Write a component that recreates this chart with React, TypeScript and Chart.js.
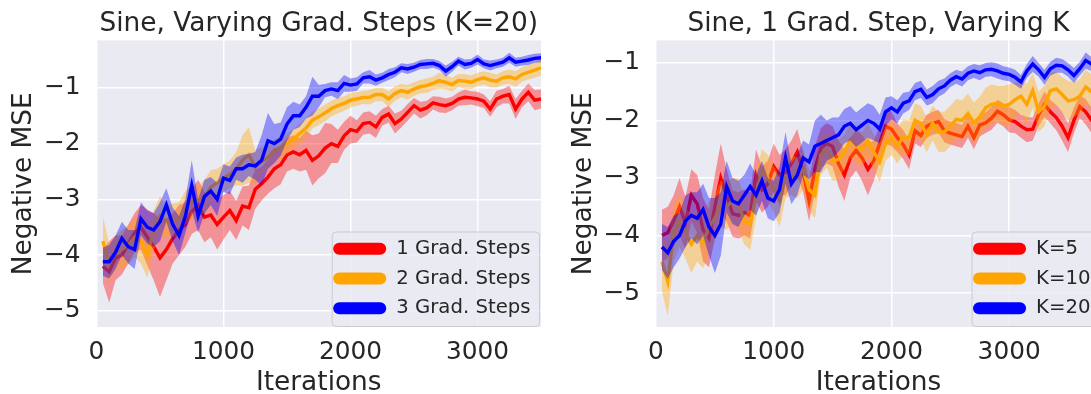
import React, { useEffect, useRef } from "react";
import { Chart, registerables } from "chart.js";

Chart.register(...registerables);

const FONT = "'DejaVu Sans', sans-serif";
const TEXT = "#262626";
const BG = "#EAEAF2";

// ---------- data ----------
const iterations = [
  50, 100, 150, 200, 250, 300, 350, 400, 450, 500,
  550, 600, 650, 700, 750, 800, 850, 900, 950, 1000,
  1050, 1100, 1150, 1200, 1250, 1300, 1350, 1400, 1450, 1500,
  1550, 1600, 1650, 1700, 1750, 1800, 1850, 1900, 1950, 2000,
  2050, 2100, 2150, 2200, 2250, 2300, 2350, 2400, 2450, 2500,
  2550, 2600, 2650, 2700, 2750, 2800, 2850, 2900, 2950, 3000,
  3050, 3100, 3150, 3200, 3250, 3300, 3350, 3400, 3450, 3500,
  3550, 3600, 3650, 3700, 3750,
];

const xTickValues = [0, 1000, 2000, 3000];
const yTickValues = [-5, -4, -3, -2, -1];

// Left panel: Sine, Varying Grad. Steps (K=20)
const leftTitle = "Sine, Varying Grad. Steps (K=20)";
const leftLabels = ["1 Grad. Steps", "2 Grad. Steps", "3 Grad. Steps"];

const leftStep1 = [
  -4.2, -4.3, -4.05, -4.0, -3.8, -3.6, -3.5, -3.68, -3.85, -4.05,
  -3.9, -3.7, -3.55, -3.45, -3.22, -3.1, -3.32, -3.28, -3.45, -3.32,
  -3.2, -3.38, -3.12, -3.15, -2.82, -2.72, -2.6, -2.45, -2.38, -2.2,
  -2.15, -2.2, -2.12, -2.3, -2.22, -2.08, -2.0, -2.05, -1.86, -1.75,
  -1.78, -1.64, -1.62, -1.7, -1.53, -1.47, -1.64, -1.56, -1.44, -1.32,
  -1.4, -1.36, -1.27, -1.3, -1.32, -1.28, -1.2, -1.17, -1.18, -1.2,
  -1.24, -1.38, -1.2, -1.15, -1.12, -1.38, -1.2, -1.08, -1.22, -1.2,
];
const leftStep1Spread = [
  0.3, 0.55, 0.4, 0.35, 0.35, 0.35, 0.4, 0.5, 0.6, 0.7,
  0.55, 0.45, 0.45, 0.4, 0.4, 0.45, 0.45, 0.4, 0.45, 0.4,
  0.35, 0.35, 0.35, 0.4, 0.35, 0.3, 0.3, 0.35, 0.35, 0.3,
  0.3, 0.3, 0.35, 0.45, 0.4, 0.45, 0.35, 0.3, 0.25, 0.25,
  0.2, 0.2, 0.2, 0.2, 0.15, 0.15, 0.18, 0.15, 0.15, 0.14,
  0.15, 0.13, 0.12, 0.14, 0.13, 0.12, 0.12, 0.14, 0.12, 0.13,
  0.12, 0.14, 0.15, 0.13, 0.16, 0.18, 0.15, 0.16, 0.18, 0.17,
];
const leftStep2 = [
  -3.75, -4.15, -3.95, -3.9, -3.82, -3.68, -3.75, -4.0, -3.55, -3.3,
  -3.4, -3.38, -3.35, -3.15, -3.05, -3.02, -2.95, -2.78, -2.7, -2.62,
  -2.55, -2.45, -2.3, -2.2, -2.42, -2.32, -2.25, -2.12, -2.08, -2.0,
  -1.92, -1.82, -1.72, -1.58, -1.52, -1.45, -1.37, -1.32, -1.28, -1.22,
  -1.2, -1.17, -1.17, -1.12, -1.12, -1.2, -1.1, -1.05, -1.08, -1.02,
  -0.98, -0.96, -0.92, -0.87, -0.9, -0.94, -0.87, -0.88, -0.9, -0.85,
  -0.82, -0.86, -0.88, -0.82, -0.8, -0.84, -0.76, -0.72, -0.68, -0.64,
];
const leftStep2Spread = [
  0.45, 0.35, 0.3, 0.35, 0.35, 0.35, 0.4, 0.4, 0.35, 0.35,
  0.3, 0.3, 0.3, 0.3, 0.3, 0.25, 0.3, 0.3, 0.25, 0.25,
  0.25, 0.3, 0.45, 0.5, 0.3, 0.25, 0.2, 0.2, 0.2, 0.18,
  0.18, 0.18, 0.18, 0.15, 0.15, 0.15, 0.14, 0.14, 0.13, 0.13,
  0.12, 0.12, 0.13, 0.12, 0.12, 0.14, 0.13, 0.12, 0.13, 0.12,
  0.12, 0.13, 0.12, 0.14, 0.13, 0.12, 0.12, 0.13, 0.12, 0.12,
  0.12, 0.13, 0.12, 0.12, 0.13, 0.14, 0.13, 0.13, 0.14, 0.14,
];
const leftStep3 = [
  -4.12, -4.12, -3.95, -3.7, -3.85, -3.9, -3.35, -3.5, -3.55, -3.4,
  -3.1, -3.45, -3.65, -3.3, -2.75, -3.3, -2.95, -2.85, -3.0, -2.62,
  -2.66, -2.45, -2.45, -2.38, -2.4, -2.3, -1.95, -2.0, -1.92, -1.65,
  -1.5, -1.5, -1.35, -1.15, -1.15, -1.05, -1.02, -1.05, -0.92, -0.95,
  -0.93, -0.82, -0.8, -0.86, -0.82, -0.76, -0.72, -0.64, -0.66, -0.63,
  -0.58, -0.57, -0.56, -0.6, -0.7, -0.62, -0.52, -0.58, -0.56, -0.49,
  -0.57, -0.6, -0.57, -0.54, -0.46, -0.54, -0.52, -0.5, -0.47, -0.46,
];
const leftStep3Spread = [
  0.25, 0.3, 0.3, 0.3, 0.3, 0.35, 0.3, 0.3, 0.3, 0.35,
  0.3, 0.3, 0.35, 0.3, 0.45, 0.3, 0.3, 0.25, 0.3, 0.25,
  0.25, 0.2, 0.25, 0.2, 0.25, 0.45, 0.5, 0.35, 0.3, 0.3,
  0.25, 0.2, 0.2, 0.35, 0.2, 0.12, 0.12, 0.15, 0.15, 0.12,
  0.12, 0.1, 0.12, 0.1, 0.09, 0.1, 0.09, 0.08, 0.09, 0.08,
  0.08, 0.09, 0.08, 0.08, 0.1, 0.09, 0.08, 0.09, 0.08, 0.09,
  0.08, 0.09, 0.08, 0.08, 0.09, 0.08, 0.08, 0.09, 0.08, 0.08,
];

// Right panel: Sine, 1 Grad. Step, Varying K
const rightTitle = "Sine, 1 Grad. Step, Varying K";
const rightLabels = ["K=5", "K=10", "K=20"];

const rightK5 = [
  -4.0, -3.95, -3.75, -3.5, -3.78, -3.3, -3.45, -3.9, -4.05, -3.5,
  -3.0, -3.3, -3.62, -3.65, -3.6, -3.65, -2.95, -3.2, -3.1, -2.8,
  -2.95, -2.9, -2.75, -2.55, -2.9, -3.4, -2.85, -2.48, -2.4, -2.45,
  -2.75, -2.95, -2.65, -2.52, -2.65, -2.85, -2.7, -2.4, -2.1, -2.15,
  -2.3, -2.42, -2.6, -2.18, -2.26, -2.1, -2.05, -2.02, -2.18, -2.22,
  -2.25, -2.28, -2.1, -2.3, -2.08, -2.04, -1.96, -1.84, -1.9, -1.99,
  -2.02, -2.1, -2.16, -2.15, -1.9, -1.72, -1.85, -1.95, -2.1, -2.3,
  -2.0, -1.76, -1.85, -2.0, -2.1,
];
const rightK5Spread = [
  0.45, 0.45, 0.45, 0.5, 0.45, 0.45, 0.5, 0.55, 0.5, 0.55,
  0.6, 0.45, 0.4, 0.4, 0.4, 0.4, 0.45, 0.4, 0.4, 0.4,
  0.35, 0.4, 0.4, 0.4, 0.35, 0.35, 0.4, 0.35, 0.35, 0.35,
  0.4, 0.45, 0.35, 0.35, 0.4, 0.45, 0.35, 0.3, 0.3, 0.3,
  0.25, 0.25, 0.25, 0.22, 0.2, 0.2, 0.2, 0.2, 0.2, 0.2,
  0.2, 0.2, 0.2, 0.2, 0.2, 0.18, 0.2, 0.2, 0.2, 0.22,
  0.2, 0.2, 0.22, 0.2, 0.2, 0.22, 0.2, 0.22, 0.25, 0.25,
  0.22, 0.2, 0.22, 0.22, 0.22,
];
const rightK10 = [
  -4.45, -4.8, -3.95, -3.75, -3.95, -4.15, -4.0, -4.12, -3.85, -3.7,
  -3.45, -3.5, -3.4, -3.45, -3.75, -3.8, -3.3, -2.85, -3.0, -3.2,
  -3.4, -3.0, -2.95, -3.0, -2.85, -3.2, -3.3, -2.6, -2.52, -2.7,
  -2.68, -2.55, -2.35, -2.45, -2.5, -2.35, -2.55, -2.72, -2.4, -2.3,
  -2.45, -2.28, -2.3, -2.0, -2.05, -2.25, -2.05, -2.2, -2.2, -2.1,
  -1.98, -2.0, -1.88, -2.04, -1.94, -1.78, -1.72, -1.7, -1.75, -1.72,
  -1.64, -1.58, -1.72, -1.48, -1.85, -1.75, -1.48, -1.45, -1.55, -1.66,
  -1.64, -1.58, -1.42, -1.5, -1.55,
];
const rightK10Spread = [
  0.5, 0.6, 0.5, 0.45, 0.45, 0.5, 0.45, 0.45, 0.45, 0.4,
  0.4, 0.4, 0.4, 0.45, 0.4, 0.45, 0.4, 0.35, 0.4, 0.4,
  0.45, 0.35, 0.35, 0.35, 0.35, 0.35, 0.4, 0.35, 0.3, 0.35,
  0.35, 0.3, 0.3, 0.3, 0.3, 0.3, 0.3, 0.35, 0.3, 0.3,
  0.3, 0.3, 0.3, 0.3, 0.3, 0.3, 0.3, 0.35, 0.35, 0.35,
  0.35, 0.35, 0.35, 0.35, 0.35, 0.35, 0.35, 0.3, 0.35, 0.35,
  0.3, 0.3, 0.35, 0.3, 0.35, 0.35, 0.3, 0.3, 0.3, 0.35,
  0.3, 0.3, 0.3, 0.3, 0.3,
];
const rightK20 = [
  -4.2, -4.3, -4.1, -4.0, -3.75, -3.65, -3.7, -3.55, -3.85, -4.0,
  -3.8, -3.15, -3.4, -3.45, -3.3, -3.15, -3.3, -3.05, -3.35, -3.4,
  -3.2, -2.65, -3.1, -2.95, -2.65, -2.72, -2.45, -2.4, -2.35, -2.3,
  -2.25, -2.1, -2.05, -2.16, -2.08, -2.0, -2.05, -2.15, -1.85, -1.78,
  -1.85, -1.7, -1.66, -1.5, -1.46, -1.6, -1.55, -1.45, -1.4, -1.3,
  -1.24, -1.28, -1.18, -1.14, -1.17, -1.12, -1.11, -1.14, -1.18, -1.2,
  -1.25, -1.33, -1.14, -1.02, -1.12, -1.25, -1.1, -1.04, -1.05, -1.12,
  -1.22, -1.1, -0.96, -1.02, -1.1,
];
const rightK20Spread = [
  0.4, 0.45, 0.45, 0.4, 0.45, 0.4, 0.45, 0.45, 0.5, 0.65,
  0.55, 0.45, 0.4, 0.4, 0.35, 0.4, 0.35, 0.35, 0.35, 0.35,
  0.4, 0.45, 0.35, 0.35, 0.3, 0.3, 0.45, 0.5, 0.35, 0.35,
  0.3, 0.3, 0.3, 0.3, 0.3, 0.3, 0.3, 0.25, 0.25, 0.2,
  0.2, 0.18, 0.16, 0.15, 0.15, 0.14, 0.15, 0.14, 0.13, 0.12,
  0.12, 0.13, 0.12, 0.12, 0.13, 0.12, 0.12, 0.13, 0.12, 0.12,
  0.13, 0.12, 0.12, 0.14, 0.12, 0.13, 0.12, 0.13, 0.12, 0.12,
  0.13, 0.12, 0.14, 0.12, 0.12,
];

const COLORS = ["#FF0000", "#FFA500", "#0000FF"];
const BANDS = ["rgba(255,0,0,0.38)", "rgba(255,165,0,0.38)", "rgba(0,0,255,0.38)"];

// ---------- helpers ----------
type Series = { mean: number[]; spread: number[] };

function buildDatasets(series: Series[]) {
  const sets: any[] = [];
  // topmost (last series) first: Chart.js draws index 0 last
  for (let s = series.length - 1; s >= 0; s--) {
    const { mean, spread } = series[s];
    const line = mean.map((v, i) => ({ x: iterations[i], y: v }));
    const upper = mean.map((v, i) => ({ x: iterations[i], y: v + spread[i] }));
    const lower = mean.map((v, i) => ({ x: iterations[i], y: v - spread[i] }));
    sets.push({
      data: line,
      borderColor: COLORS[s],
      borderWidth: 3.4,
      pointRadius: 0,
      fill: false,
    });
    sets.push({
      data: upper,
      borderColor: "transparent",
      borderWidth: 0,
      pointRadius: 0,
      backgroundColor: BANDS[s],
      fill: "+1",
    });
    sets.push({
      data: lower,
      borderColor: "transparent",
      borderWidth: 0,
      pointRadius: 0,
      fill: false,
    });
  }
  return sets;
}

const bgPlugin = {
  id: "axesBg",
  beforeDraw(chart: any) {
    const { ctx, chartArea } = chart;
    ctx.save();
    ctx.fillStyle = BG;
    ctx.fillRect(chartArea.left, chartArea.top, chartArea.right - chartArea.left, chartArea.bottom - chartArea.top);
    ctx.restore();
  },
};

const legendPlugin = {
  id: "boxLegend",
  afterDraw(chart: any, _args: any, opts: any) {
    const { ctx, chartArea } = chart;
    const labels: string[] = opts.labels || [];
    ctx.save();
    ctx.font = `19.7px ${FONT}`;
    let maxW = 0;
    labels.forEach((l) => (maxW = Math.max(maxW, ctx.measureText(l).width)));
    const right = chartArea.right - 1.5;
    const bottom = chartArea.bottom - 0.5;
    const textX = right - 9 - maxW;
    const lineEnd = textX - 16;
    const lineStart = lineEnd - 41;
    const boxLeft = lineStart - 7;
    const top = bottom - 94.5;
    ctx.beginPath();
    ctx.roundRect(boxLeft, top, right - boxLeft, bottom - top, 4);
    ctx.fillStyle = "rgba(234,234,242,0.8)";
    ctx.fill();
    ctx.strokeStyle = "#CCCCCC";
    ctx.lineWidth = 1;
    ctx.stroke();
    labels.forEach((l, i) => {
      const cy = bottom - 77.7 + i * 29.7;
      ctx.strokeStyle = COLORS[i];
      ctx.lineWidth = 12;
      ctx.lineCap = "round";
      ctx.beginPath();
      ctx.moveTo(lineStart, cy);
      ctx.lineTo(lineEnd, cy);
      ctx.stroke();
      ctx.fillStyle = TEXT;
      ctx.textBaseline = "middle";
      ctx.textAlign = "left";
      ctx.fillText(l, textX, cy);
    });
    ctx.restore();
  },
};

function fmtY(v: number) {
  return v < 0 ? "\u2212" + Math.abs(v) : String(v);
}

type PanelCfg = {
  title: string;
  labels: string[];
  series: Series[];
  xMax: number;
  yMin: number;
  yMax: number;
  yAxisWidth: number;
  yTitlePad: number;
  padRight: number;
};

function makeChart(canvas: HTMLCanvasElement, cfg: PanelCfg) {
  return new Chart(canvas, {
    type: "line",
    data: { datasets: buildDatasets(cfg.series) },
    options: {
      responsive: false,
      animation: false,
      devicePixelRatio: 1,
      events: [],
      layout: { padding: { left: 0, right: cfg.padRight, top: 0, bottom: 0 } },
      plugins: {
        legend: { display: false },
        tooltip: { enabled: false },
        title: {
          display: true,
          text: cfg.title,
          color: TEXT,
          fullSize: false,
          font: { family: FONT, size: 26.4, weight: "normal", lineHeight: 1.2 },
          padding: { top: 8, bottom: 0.8 },
        },
        boxLegend: { labels: cfg.labels },
      } as any,
      scales: {
        x: {
          type: "linear",
          min: 0,
          max: cfg.xMax,
          grid: { color: "#FFFFFF", lineWidth: 1.5, drawTicks: false },
          border: { display: false },
          ticks: {
            color: TEXT,
            font: { family: FONT, size: 24.8 },
            padding: 10.5,
            maxRotation: 0,
            callback: (v: any) => String(v),
          },
          title: {
            display: true,
            text: "Iterations",
            color: TEXT,
            font: { family: FONT, size: 26.4, lineHeight: 1.2 },
            padding: { top: 0, bottom: -4.5 },
          },
          afterBuildTicks: (s: any) => {
            s.ticks = xTickValues.map((v) => ({ value: v }));
          },
          afterFit: (s: any) => {
            s.height = 67;
          },
        },
        y: {
          type: "linear",
          min: cfg.yMin,
          max: cfg.yMax,
          grid: { color: "#FFFFFF", lineWidth: 1.5, drawTicks: false },
          border: { display: false },
          ticks: {
            color: TEXT,
            font: { family: FONT, size: 24.8 },
            padding: 16,
            callback: (v: any) => fmtY(Number(v)),
          },
          title: {
            display: true,
            text: "Negative MSE",
            color: TEXT,
            font: { family: FONT, size: 26.4, lineHeight: 1.2 },
            padding: { top: cfg.yTitlePad, bottom: 0 },
          },
          afterBuildTicks: (s: any) => {
            s.ticks = yTickValues.map((v) => ({ value: v }));
          },
          afterFit: (s: any) => {
            s.width = cfg.yAxisWidth;
          },
        },
      },
    } as any,
    plugins: [bgPlugin, legendPlugin],
  });
}

export default function App() {
  const leftRef = useRef<HTMLCanvasElement>(null);
  const rightRef = useRef<HTMLCanvasElement>(null);

  useEffect(() => {
    const left = makeChart(leftRef.current!, {
      title: leftTitle,
      labels: leftLabels,
      series: [
        { mean: leftStep1, spread: leftStep1Spread },
        { mean: leftStep2, spread: leftStep2Spread },
        { mean: leftStep3, spread: leftStep3Spread },
      ],
      xMax: 3500,
      yMin: -5.29,
      yMax: -0.15,
      yAxisWidth: 96.5,
      yTitlePad: 8.2,
      padRight: 4,
    });
    const right = makeChart(rightRef.current!, {
      title: rightTitle,
      labels: rightLabels,
      series: [
        { mean: rightK5, spread: rightK5Spread },
        { mean: rightK10, spread: rightK10Spread },
        { mean: rightK20, spread: rightK20Spread },
      ],
      xMax: 3780,
      yMin: -5.59,
      yMax: -0.61,
      yAxisWidth: 111,
      yTitlePad: 23.2,
      padRight: 4,
    });
    return () => {
      left.destroy();
      right.destroy();
    };
  }, []);

  return (
    <div
      style={{
        position: "fixed",
        left: 0,
        top: 0,
        width: 1091,
        height: 394,
        overflow: "hidden",
        background: "#FFFFFF",
      }}
    >
      <canvas
        ref={leftRef}
        width={545}
        height={394}
        style={{ position: "absolute", left: 0, top: 0, width: 545, height: 394 }}
      />
      <canvas
        ref={rightRef}
        width={560}
        height={394}
        style={{ position: "absolute", left: 545, top: 0, width: 560, height: 394 }}
      />
    </div>
  );
}
